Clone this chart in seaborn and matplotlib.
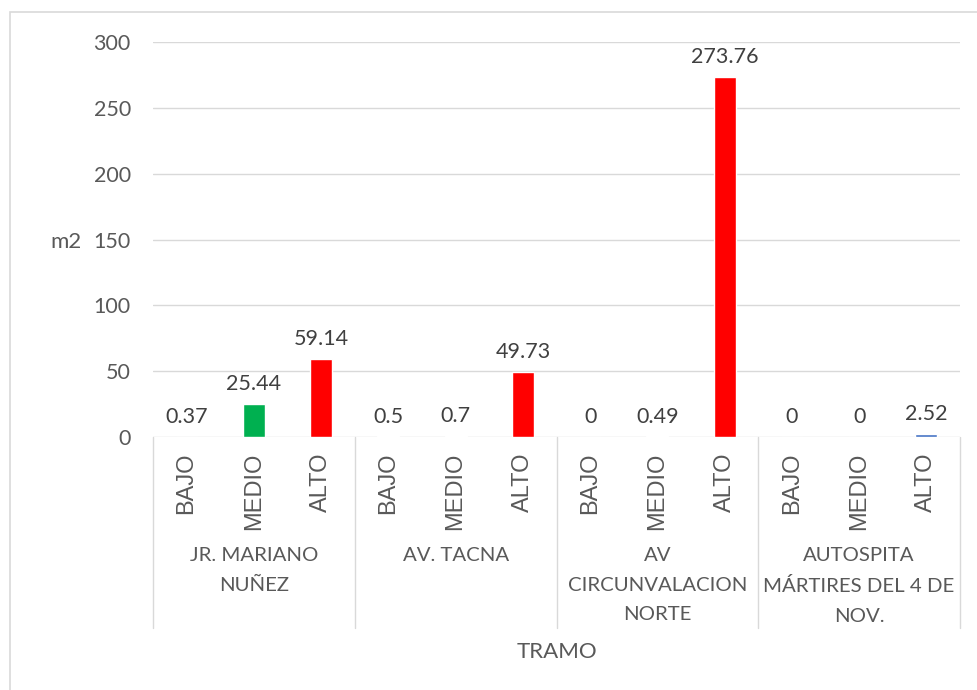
import matplotlib
matplotlib.use("Agg")
import matplotlib.pyplot as plt
import seaborn as sns
import pandas as pd
from matplotlib.patches import Rectangle
from matplotlib.lines import Line2D

tramos = ["JR. MARIANO\nNUÑEZ", "AV. TACNA", "AV\nCIRCUNVALACION\nNORTE",
          "AUTOSPITA\nMÁRTIRES DEL 4 DE\nNOV."]
niveles = ["BAJO", "MEDIO", "ALTO"]
valores = [0.37, 25.44, 59.14,
           0.5, 0.7, 49.73,
           0, 0.49, 273.76,
           0, 0, 2.52]
etiquetas = ["0.37", "25.44", "59.14",
             "0.5", "0.7", "49.73",
             "0", "0.49", "273.76",
             "0", "0", "2.52"]
colores = ["#D9E2F3", "#00B050", "#FF0000",
           "#D9E2F3", "#D9E2F3", "#FF0000",
           "#D9E2F3", "#D9E2F3", "#FF0000",
           "#D9E2F3", "#D9E2F3", "#4472C4"]
yticks = [0, 50, 100, 150, 200, 250, 300]

sns.set_theme(style="white")
plt.rcParams["font.family"] = ["Lato", "DejaVu Sans"]
TXT = "#595959"
GRID = "#D9D9D9"

rows = []
for g, t in enumerate(tramos):
    for j, n in enumerate(niveles):
        k = g * 3 + j
        rows.append({"key": str(k), "tramo": t, "nivel": n, "valor": valores[k]})
df = pd.DataFrame(rows)

W, H = 978, 690
fig = plt.figure(figsize=(W / 100, H / 100), dpi=100)
L, R, T, B = 153, 960, 42, 437
ax = fig.add_axes([L / W, 1 - B / H, (R - L) / W, (B - T) / H])

sns.barplot(data=df, x="key", y="valor", hue="key", palette=colores,
            order=df["key"].tolist(), hue_order=df["key"].tolist(),
            width=0.33, legend=False, ax=ax, saturation=1, zorder=3)

ax.set_xlim(-0.5, 11.5)
ax.set_ylim(0, 300)
ax.set_yticks(yticks)
ax.set_yticklabels([str(v) for v in yticks], fontsize=15.5, color=TXT)
ax.tick_params(axis="y", length=0, pad=16)
ax.set_xticks([])
ax.set_xlabel("")
ax.set_ylabel("")
for s in ax.spines.values():
    s.set_visible(False)
for v in yticks:
    ax.axhline(v, color=GRID, lw=1, zorder=0)

for k, (v, lab) in enumerate(zip(valores, etiquetas)):
    ax.annotate(lab, (k, v), xytext=(0, 7), textcoords="offset points",
                ha="center", va="bottom", fontsize=15.5, color="#404040")

# category axis labels
for k in range(12):
    x = L + (k + 0.5) * (R - L) / 12
    fig.text(x / W, 1 - 453 / H, niveles[k % 3], rotation=90, ha="center", va="top",
             fontsize=17, color=TXT, family=["Liberation Sans", "DejaVu Sans"])
for g, t in enumerate(tramos):
    x = L + (g + 0.5) * (R - L) / 4
    fig.text(x / W, 1 - 547 / H, t, ha="center", va="top", fontsize=14.7,
             color=TXT, linespacing=1.9)
for g in range(5):
    x = L + g * (R - L) / 4
    fig.add_artist(Line2D([x / W, x / W], [1 - B / H, 1 - 628 / H],
                          color=GRID, lw=1, transform=fig.transFigure))

fig.text(557 / W, 1 - 652 / H, "TRAMO", ha="center", va="center", fontsize=16, color=TXT)
fig.text(66 / W, 1 - 242 / H, "m2", ha="center", va="center", fontsize=16, color=TXT)

fig.add_artist(Rectangle((10 / W, -0.01), 1.0, 1 - 12 / H + 0.01, fill=False,
                         edgecolor=GRID, lw=1.2, transform=fig.transFigure))

fig.savefig("out.png", dpi=100, facecolor="white")
